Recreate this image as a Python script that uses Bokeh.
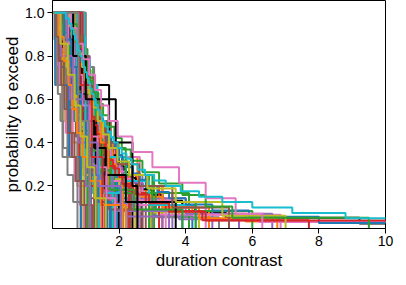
from bokeh.plotting import figure
from bokeh.models import Range1d, FixedTicker, Title
from bokeh.embed import file_html
from bokeh.resources import INLINE

# ---- data: sorted duration contrasts of each sample (first value = start) ----
s01 = [0.03, 0.98, 1.72]
s02 = [0.04, 0.45, 1.3, 2.55]
s03 = [0.04, 0.6, 1.22, 1.7, 3.05]
s04 = [0.04, 0.55, 1.1, 1.4, 1.9, 3.3]
s05 = [0.04, 0.5, 0.8, 1.05, 1.5, 2.1, 3.6]
s06 = [0.04, 0.2, 0.45, 0.7, 0.9, 1.1, 1.4, 1.9, 2.8]
s07 = [0.05, 0.62, 1.15]
s08 = [0.03, 0.2, 0.45, 1.05]
s09 = [0.03, 0.3, 0.55, 0.9, 1.4]
s10 = [0.03, 0.25, 0.5, 0.8, 1.25, 2.0]
s11 = [0.04, 0.18, 0.3, 0.42, 0.55, 0.66, 0.78, 0.9, 1.0, 1.12, 1.25, 1.4, 1.6, 1.9, 2.3, 3.0, 4.2]
s12 = [0.04, 0.85, 1.42]
s13 = [0.05, 0.65, 1.2, 2.1]
s14 = [0.05, 0.8, 1.0, 1.55, 2.5]
s15 = [0.05, 0.85, 1.12, 1.3, 1.6, 2.65]
s16 = [0.03, 0.22, 0.4, 0.7, 0.95, 1.3, 1.9]
s17 = [0.03, 0.6, 0.85, 1.0, 1.2, 1.5, 1.85, 2.4, 4.6]
s18 = [0.03, 0.45, 0.56, 0.66, 0.75, 0.84, 0.92, 1.0, 1.08, 1.17, 1.27, 1.38, 1.5, 1.66, 1.85, 2.1, 2.5, 3.1, 5.0]
s19 = [0.03, 0.35, 0.95]
s20 = [0.04, 0.88, 1.35, 1.95]
s21 = [0.04, 0.18, 0.42, 1.2, 1.95]
s22 = [0.04, 0.15, 0.35, 0.6, 0.75, 1.1]
s23 = [0.05, 0.9, 1.05, 1.3, 1.65, 2.4, 4.1]
s24 = [0.05, 0.1, 0.3, 0.5, 0.62, 0.8, 1.05, 1.3, 2.0]
s25 = [0.05, 0.22, 0.32, 0.41, 0.5, 0.58, 0.66, 0.74, 0.82, 0.9, 0.98, 1.06, 1.15, 1.25, 1.36, 1.48, 1.62, 1.8, 2.05, 2.4, 2.9, 3.8, 5.6]
s26 = [0.06, 0.72, 1.58]
s27 = [0.03, 0.12, 0.9, 1.5]
s28 = [0.03, 0.95, 1.25, 1.6, 2.7]
s29 = [0.03, 0.7, 0.95, 1.45, 2.0, 2.95]
s30 = [0.04, 0.12, 0.28, 0.55, 0.85, 1.2, 2.6]
s31 = [0.04, 0.75, 0.95, 1.1, 1.35, 1.6, 2.0, 2.8, 3.9]
s32 = [0.04, 0.5, 0.58, 0.65, 0.72, 0.78, 0.84, 0.9, 0.96, 1.02, 1.08, 1.14, 1.2, 1.27, 1.34, 1.42, 1.5, 1.6, 1.7, 1.82, 1.95, 2.1, 2.3, 2.55, 2.9, 3.4, 4.2, 5.8, 11.5]
s33 = [0.05, 0.92, 1.05]
s34 = [0.05, 0.55, 0.8, 1.25]
s35 = [0.05, 0.5, 0.7, 1.1, 2.25]
s36 = [0.05, 0.4, 0.9, 1.2, 1.5, 1.75]
s37 = [0.04, 0.3, 0.45, 0.58, 0.7, 0.8, 0.92, 1.02, 1.12, 1.25, 1.4, 1.6, 1.85, 2.3, 3.2, 6.85]
s38 = [0.03, 0.4, 0.58, 0.82, 1.0, 1.3, 1.6, 2.5]
s39 = [0.03, 0.6, 0.75, 0.86, 0.96, 1.05, 1.15, 1.28, 1.42, 1.6, 1.85, 2.2, 2.9, 4.4]
s40 = [0.03, 0.65, 0.92, 1.15, 1.4, 1.8, 2.3]
s41 = [0.04, 0.5, 1.28]
s42 = [0.04, 0.32, 1.1, 2.4]
s43 = [0.04, 0.38, 1.1, 1.45, 1.85]
s44 = [0.04, 0.98, 1.05, 1.35, 1.7, 3.2]
s45 = [0.03, 0.65, 0.78, 0.9, 1.0, 1.08, 1.18, 1.3, 1.45, 1.6, 1.8, 2.1, 2.7, 4.0, 6.6]
s46 = [0.05, 0.15, 0.33, 0.52, 0.7, 0.88, 1.1, 1.6]
s47 = [0.04, 0.3, 0.5, 0.75, 0.9, 1.05, 1.3, 1.55, 2.1, 3.4]
s48 = [0.05, 0.35, 0.6, 0.98, 1.25, 1.7, 3.0]
s49 = [0.05, 0.2, 0.38, 0.55, 0.68, 0.8, 0.95, 1.1, 1.35, 1.7, 2.5]
s50 = [0.03, 0.7, 0.98, 1.8]
s51 = [0.03, 0.78, 1.65]
s52 = [0.04, 0.7, 0.88, 1.0, 1.15, 1.3, 1.5, 1.8, 2.3, 3.3, 4.7]
s53 = [0.03, 0.68, 0.85, 1.3, 2.9]
s54 = [0.03, 0.3, 0.65, 1.0, 1.15, 2.3]
s55 = [0.04, 0.25, 0.4, 0.55, 0.7, 0.82, 0.95, 1.1, 1.28, 1.5, 1.8, 2.4, 4.8]
s56 = [0.04, 0.9, 1.05, 1.75, 2.35]
s57 = [0.04, 0.35, 0.45, 0.53, 0.6, 0.67, 0.73, 0.79, 0.85, 0.91, 0.97, 1.03, 1.09, 1.15, 1.22, 1.29, 1.37, 1.45, 1.54, 1.64, 1.75, 1.88, 2.02, 2.2, 2.42, 2.7, 3.1, 3.7, 4.6, 6.2, 13.0]
s58 = [0.05, 1.0, 1.35]
s59 = [0.04, 0.28, 0.88]
s60 = [0.04, 0.95, 1.25, 2.2]
s61 = [0.05, 0.1, 0.65, 0.95, 1.15]
s62 = [0.03, 0.4, 0.52, 0.62, 0.72, 0.8, 0.88, 0.96, 1.04, 1.12, 1.2, 1.3, 1.42, 1.55, 1.7, 1.9, 2.2, 2.6, 3.3, 4.4, 6.75]
s63 = [0.03, 0.5, 0.68, 0.8, 0.92, 1.02, 1.15, 1.3, 1.5, 1.75, 2.1, 3.1, 6.0]
s64 = [0.04, 0.28, 0.38, 0.46, 0.54, 0.62, 0.7, 0.77, 0.84, 0.91, 0.98, 1.05, 1.13, 1.22, 1.32, 1.43, 1.56, 1.7, 1.88, 2.1, 2.4, 2.8, 3.4, 4.5, 7.7]
s65 = [0.05, 0.12, 0.22, 0.35, 0.48, 0.6, 0.72, 0.85, 1.0, 1.2, 1.45, 1.9, 3.5]
s66 = [0.05, 0.14, 0.26, 0.4, 0.52, 0.64, 0.78, 0.92, 1.08, 1.3, 1.7, 2.7]
s67 = [0.05, 0.15, 0.6, 2.62]
s68 = [0.03, 0.4, 0.75, 1.6]
s69 = [0.05, 0.25, 1.15, 1.4]
s70 = [0.03, 0.85, 0.98, 1.12, 1.3, 1.45, 1.7, 2.2, 2.9, 4.3]
s71 = [0.03, 0.55, 0.62, 0.68, 0.74, 0.8, 0.85, 0.9, 0.95, 1.0, 1.05, 1.1, 1.15, 1.2, 1.26, 1.32, 1.38, 1.45, 1.52, 1.6, 1.68, 1.77, 1.87, 1.98, 2.1, 2.25, 2.42, 2.62, 2.85, 3.15, 3.5, 4.0, 4.8, 5.9, 8.0, 10.8]
s72 = [0.04, 0.75, 1.12]
s73 = [0.05, 0.3, 0.5, 0.9, 1.3, 1.6, 2.2, 3.0, 4.3]
s74 = [0.05, 0.3, 0.4, 0.5, 0.58, 0.66, 0.74, 0.82, 0.9, 0.97, 1.04, 1.11, 1.18, 1.26, 1.35, 1.45, 1.56, 1.68, 1.82, 2.0, 2.2, 2.5, 2.9, 3.5, 4.6, 12.0]
s75 = [0.04, 0.2, 0.28, 0.36, 0.44, 0.52, 0.6, 0.68, 0.76, 0.85, 0.95, 1.05, 1.18, 1.32, 1.5, 1.75, 2.2, 3.3]
s76 = [0.03, 0.16, 0.24, 0.34, 0.44, 0.54, 0.66, 0.8, 0.96, 1.2]
s77 = [0.05, 0.08, 0.14, 0.22, 0.3, 0.4, 0.52, 0.66, 0.82, 0.95]
s78 = [0.04, 0.06, 0.1, 0.16, 0.24, 0.32, 0.45, 0.62, 0.85]
s79 = [0.04, 0.42, 0.7, 0.95, 1.3]
s80 = [0.03, 0.58, 0.78, 1.02, 1.22, 1.5, 2.05]
s81 = [0.05, 0.08, 0.5, 0.85]
s82 = [0.04, 0.68, 1.02, 1.45, 1.68, 2.1]
s83 = [0.03, 0.33, 0.47, 0.6, 0.74, 0.88, 1.0, 1.18, 1.4, 1.72, 2.45, 3.9]
s84 = [0.05, 0.9, 1.6]
s85 = [0.04, 0.26, 0.52, 0.78, 1.0, 1.12]
s86 = [0.03, 0.8, 0.92, 1.08, 1.24, 1.42, 1.62, 1.95, 2.6, 3.6, 5.3]
s87 = [0.05, 0.48, 0.66, 0.9, 1.12, 1.35, 1.62, 1.88]
s88 = [0.04, 0.12, 0.3, 0.75]
s89 = [0.03, 0.52, 0.64, 0.76, 0.88, 0.98, 1.1, 1.22, 1.36, 1.52, 1.7, 1.95, 2.3, 2.85, 3.7, 5.1, 7.0]
s90 = [0.04, 0.72, 1.0, 1.4]
s91 = [0.05, 0.36, 0.56, 0.72, 0.86, 1.0, 1.16, 1.38, 1.75]
s92 = [0.03, 0.18, 0.34, 0.48, 0.6, 0.74, 0.9, 1.12, 1.45, 2.2]
s93 = [0.04, 0.62, 0.74, 0.84, 0.94, 1.04, 1.14, 1.25, 1.38, 1.52, 1.68, 1.86, 2.08, 2.35, 2.7, 3.2, 3.9, 4.6, 5.4, 9.5]
s94 = [0.05, 0.82, 1.18, 1.5]
s95 = [0.03, 0.44, 0.62, 1.08, 1.36, 2.05]
s96 = [0.04, 0.1, 0.18, 0.26, 0.36, 0.46, 0.58, 0.7, 0.86, 1.0]
s97 = [0.05, 0.55, 0.75, 0.92, 1.1, 1.28, 1.46, 1.68, 1.96, 2.4, 3.0, 3.8, 4.6, 5.5, 6.3]
s98 = [0.04, 0.78, 1.1]
s99 = [0.03, 0.24, 0.46, 0.66, 0.84, 1.04, 1.26, 1.6]
s100 = [0.05, 0.4, 0.5, 0.57, 0.63, 0.68, 0.73, 0.78, 0.83, 0.88, 0.93, 0.98, 1.03, 1.08, 1.13, 1.18, 1.24, 1.3, 1.36, 1.43, 1.5, 1.58, 1.66, 1.75, 1.85, 1.96, 2.08, 2.22, 2.38, 2.56, 2.78, 3.05, 3.4, 3.85, 4.4, 5.1, 6.0, 7.2, 8.8, 10.5, 15.0]

k1 = [0.04, 0.9, 1.7, 2.1]
k2 = [0.05, 0.6, 1.0, 1.3, 1.8, 2.66]
k3 = [0.03, 0.3, 0.4, 0.48, 0.55, 0.61, 0.67, 0.72, 0.77, 0.82, 0.87, 0.92, 0.97, 1.02, 1.07, 1.12, 1.17, 1.22, 1.28, 1.34, 1.4, 1.47, 1.54, 1.62, 1.7, 1.8, 1.9, 2.0, 2.15, 2.3, 2.5, 2.7, 3.0, 3.3, 3.9, 4.28, 5.2, 9.22, 12.5]
k4 = [0.04, 0.7, 0.98, 1.5, 2.4]
k5 = [0.05, 0.3, 0.6, 0.9, 1.2, 1.55, 2.0]
k6 = [0.03, 0.82, 1.3]
k7 = [0.04, 0.5, 0.72, 0.88, 1.02, 1.25, 1.6, 2.2, 3.7]
k8 = [0.04, 0.62, 1.0, 1.9, 2.4, 2.55]

x_ticks = [2, 4, 6, 8, 10]
x_tick_labels = ["2", "4", "6", "8", "10"]
y_ticks = [0.2, 0.4, 0.6, 0.8, 1.0]
y_tick_labels = ["0.2", "0.4", "0.6", "0.8", "1.0"]
x_title = "duration contrast"
y_title = "probability to exceed"

colored_series = [s01, s02, s03, s04, s05, s06, s07, s08, s09, s10,
                  s11, s12, s13, s14, s15, s16, s17, s18, s19, s20,
                  s21, s22, s23, s24, s25, s26, s27, s28, s29, s30,
                  s31, s32, s33, s34, s35, s36, s37, s38, s39, s40,
                  s41, s42, s43, s44, s45, s46, s47, s48, s49, s50,
                  s51, s52, s53, s54, s55, s56, s57, s58, s59, s60,
                  s61, s62, s63, s64, s65, s66, s67, s68, s69, s70,
                  s71, s72, s73, s74, s75, s76, s77, s78, s79, s80,
                  s81, s82, s83, s84, s85, s86, s87, s88, s89, s90,
                  s91, s92, s93, s94, s95, s96, s97, s98, s99, s100]
black_series = [k1, k2, k3, k4, k5, k6, k7, k8]

TAB10 = ["#1f77b4", "#ff7f0e", "#2ca02c", "#d62728", "#9467bd",
         "#8c564b", "#e377c2", "#7f7f7f", "#bcbd22", "#17becf"]


def exceed_prob(vals):
    n = len(vals) - 1
    return [1.0 - k / n for k in range(n + 1)]


p = figure(width=396, height=269,
           x_range=Range1d(0, 10), y_range=Range1d(0.003, 1.057),
           output_backend="svg", toolbar_location=None,
           min_border_left=47, min_border_right=11,
           min_border_top=0, min_border_bottom=34)

bi = 0
for i, vals in enumerate(colored_series):
    p.step(x=vals, y=exceed_prob(vals), mode="after",
           line_color=TAB10[i % 10], line_width=2)
    if i % 12 == 11 and bi < len(black_series):
        kv = black_series[bi]
        p.step(x=kv, y=exceed_prob(kv), mode="after",
               line_color="black", line_width=2)
        bi += 1
while bi < len(black_series):
    kv = black_series[bi]
    p.step(x=kv, y=exceed_prob(kv), mode="after", line_color="black", line_width=2)
    bi += 1

p.xgrid.visible = False
p.ygrid.visible = False
p.outline_line_color = "black"
p.outline_line_width = 1
p.outline_line_alpha = 1.0

p.xaxis.ticker = FixedTicker(ticks=x_ticks)
p.yaxis.ticker = FixedTicker(ticks=y_ticks)
p.xaxis.major_label_overrides = {t: l for t, l in zip(x_ticks, x_tick_labels)}
p.yaxis.major_label_overrides = {t: l for t, l in zip(y_ticks, y_tick_labels)}
p.yaxis.axis_label = y_title

for ax in (p.xaxis, p.yaxis):
    ax.axis_line_color = "black"
    ax.axis_line_width = 1
    ax.major_tick_line_color = "black"
    ax.major_tick_line_width = 1
    ax.major_tick_in = 0
    ax.major_tick_out = 5
    ax.minor_tick_line_color = None
    ax.major_label_text_font = "Liberation Sans"
    ax.major_label_text_font_size = "14px"
    ax.major_label_text_color = "black"
    ax.axis_label_text_font = "Liberation Sans"
    ax.axis_label_text_font_size = "17px"
    ax.axis_label_text_font_style = "normal"
    ax.axis_label_text_color = "black"

p.xaxis.major_label_standoff = 2
p.yaxis.major_label_standoff = 3
p.yaxis.axis_label_standoff = 0

# x-axis title as a bottom title placed right under the tick labels
p.add_layout(Title(text=x_title, align="center", standoff=0, offset=0,
                   text_font="Liberation Sans", text_font_size="17px",
                   text_font_style="normal", text_color="black"), "below")

open("out.html", "w").write(file_html(p, INLINE))
